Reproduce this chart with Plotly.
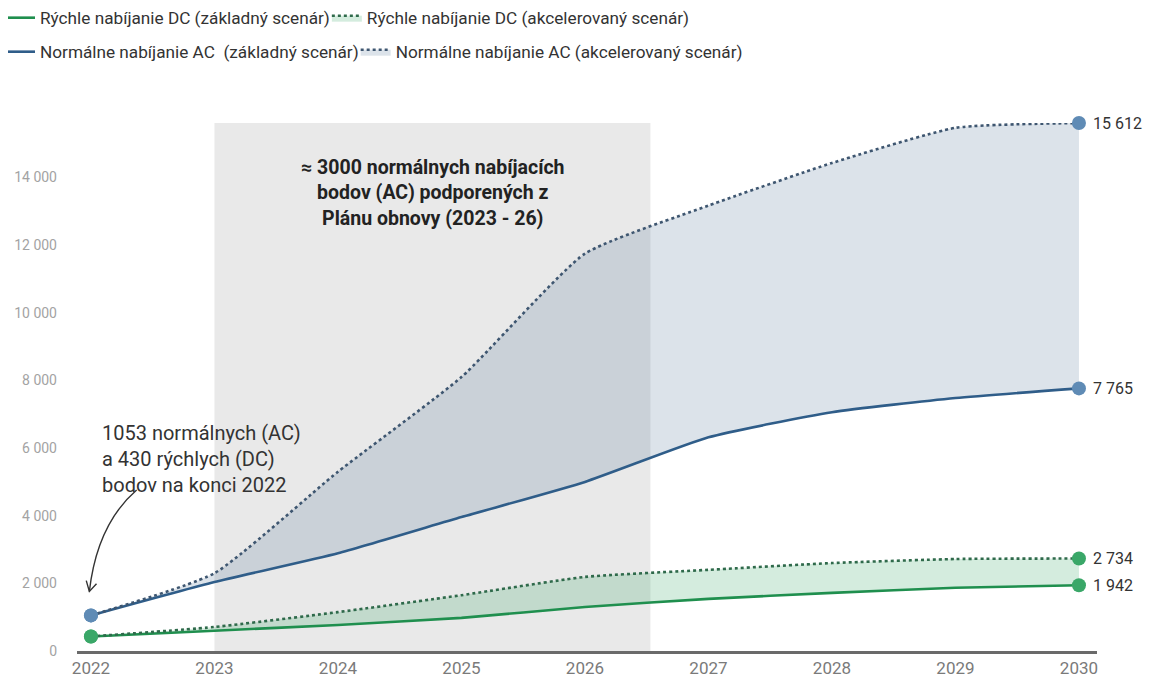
import plotly.graph_objects as go

# data
years = [2022, 2023, 2024, 2025, 2026, 2027, 2028, 2029, 2030]
dc_base = [430, 600, 770, 980, 1300, 1540, 1720, 1870, 1942]
dc_accel = [430, 710, 1150, 1650, 2190, 2400, 2600, 2720, 2734]
ac_base = [1053, 2040, 2890, 3960, 5000, 6320, 7060, 7480, 7765]
ac_accel = [1053, 2300, 5300, 8100, 11750, 13170, 14430, 15470, 15612]

y_ticks = [0, 2000, 4000, 6000, 8000, 10000, 12000, 14000]
y_tick_text = ["0", "2 000", "4 000", "6 000", "8 000", "10 000", "12 000", "14 000"]

end_labels = ["1 942", "2 734", "7 765", "15 612"]

FONT = "Roboto"
GREEN = "#1f8f4e"
GREEN_DOT = "#2f6a4b"
GREEN_MARK = "#3aa768"
BLUE = "#2f5d89"
BLUE_DOT = "#3e5670"
BLUE_MARK = "#5f8bb5"

# the page body has an 8px margin, so the figure is a bit smaller than the window
W, H = 1146, 671


def add_series(fig, y, name, color, dash, legend, fill=None, fillcolor=None):
    fig.add_trace(go.Scatter(x=years, y=y, name=name, mode="lines",
                             line=dict(color=color, width=2.6, dash=dash,
                                       shape="spline", smoothing=0.5),
                             fill=fill, fillcolor=fillcolor,
                             legend=legend, cliponaxis=False))
    return fig


def add_end_markers(fig, y, color):
    fig.add_trace(go.Scatter(x=[years[0], years[-1]], y=[y[0], y[-1]],
                             mode="markers", showlegend=False,
                             marker=dict(size=14, color=color),
                             cliponaxis=False))
    return fig


fig = go.Figure()
fig = add_series(fig, dc_base, "Rýchle nabíjanie DC (základný scenár)",
                 GREEN, "solid", "legend")
fig = add_series(fig, dc_accel, "Rýchle nabíjanie DC (akcelerovaný scenár)",
                 GREEN_DOT, "dot", "legend", "tonexty", "rgba(40,160,90,0.2)")
fig = add_series(fig, ac_base, "Normálne nabíjanie AC  (základný scenár)",
                 BLUE, "solid", "legend2")
fig = add_series(fig, ac_accel, "Normálne nabíjanie AC (akcelerovaný scenár)",
                 BLUE_DOT, "dot", "legend2", "tonexty", "rgba(60,100,140,0.18)")

fig = add_end_markers(fig, dc_accel, GREEN_MARK)
fig = add_end_markers(fig, dc_base, GREEN_MARK)
fig = add_end_markers(fig, ac_accel, BLUE_MARK)
fig = add_end_markers(fig, ac_base, BLUE_MARK)

# shaded period of the recovery plan
fig.add_shape(type="rect", xref="x", yref="paper", x0=2023, x1=2026.53,
              y0=0, y1=1, fillcolor="#e9e9e9", line_width=0, layer="below")

# end-of-line value labels
for val, lab in zip([dc_base[-1], dc_accel[-1], ac_base[-1], ac_accel[-1]], end_labels):
    fig.add_annotation(x=years[-1], y=val, text=lab, showarrow=False,
                       xanchor="left", xshift=12,
                       font=dict(family=FONT, size=16, color="#333333"))

fig.add_annotation(x=2024.77, y=13550,
                   text="<b>≈ 3000 normálnych nabíjacích<br>bodov (AC) podporených z<br>Plánu obnovy (2023 - 26)</b>",
                   showarrow=False, align="center",
                   font=dict(family=FONT, size=19.5, color="#222222"))

fig.add_annotation(x=2022.07, y=5680, xanchor="left",
                   text="1053 normálnych (AC)<br>a 430 rýchlych (DC)<br>bodov na konci 2022",
                   showarrow=False, align="left",
                   font=dict(family=FONT, size=20, color="#333333"))

# curved arrow pointing to the 2022 values
fig.add_shape(type="path", xref="x", yref="y",
              path="M 2022.37,4760 Q 2022.05,3750 2021.987,1760",
              line=dict(color="#333333", width=1.4))
fig.add_shape(type="path", xref="x", yref="y",
              path="M 2021.962,2080 L 2021.987,1760 L 2022.045,1990",
              line=dict(color="#333333", width=1.4))

legend_style = dict(orientation="h", traceorder="normal", indentation=-8,
                    xref="container", yref="container", x=0, xanchor="left",
                    yanchor="middle",
                    font=dict(family=FONT, size=17.2, color="#333333"),
                    bgcolor="rgba(0,0,0,0)")

fig.update_layout(
    width=W, height=H,
    margin=dict(l=69, r=57, t=115, b=28),
    plot_bgcolor="white", paper_bgcolor="white",
    font=dict(family=FONT),
    xaxis=dict(range=[2021.887, 2030.146], tickvals=years,
               tickfont=dict(size=17, color="#7a7a7a"),
               showgrid=False, zeroline=False, showline=True,
               linecolor="#6a6a6a", linewidth=2.5, ticks="", automargin=False),
    yaxis=dict(range=[0, 15612], tickvals=y_ticks, ticktext=y_tick_text,
               tickfont=dict(size=14, color="#a3a3a3"), ticklabelstandoff=19,
               showgrid=False, zeroline=False, showline=False,
               ticks="", automargin=False),
    legend=dict(legend_style, y=1 - 10 / H),
    legend2=dict(legend_style, y=1 - 44 / H),
    showlegend=True,
)

fig.write_html("out.html")
